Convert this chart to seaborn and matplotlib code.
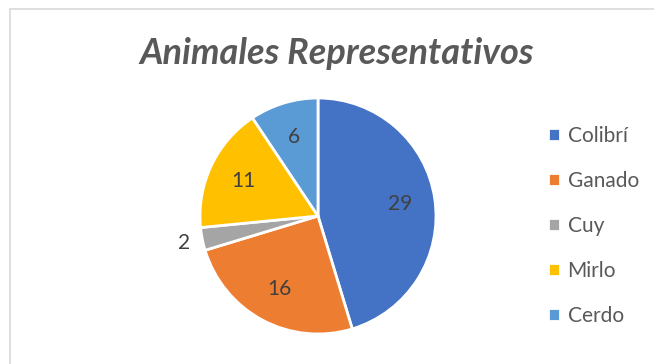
import matplotlib
matplotlib.use("Agg")
import matplotlib.pyplot as plt
import seaborn as sns
from matplotlib.patches import Rectangle

animales = ['Colibrí', 'Ganado', 'Cuy', 'Mirlo', 'Cerdo']
cantidad = [29, 16, 2, 11, 6]
colores = ['#4472C4', '#ED7D31', '#A5A5A5', '#FFC000', '#5B9BD5']
titulo = 'Animales Representativos'

sns.set_theme(style="white")
plt.rcParams['font.family'] = ['Lato', 'DejaVu Sans']

fig = plt.figure(figsize=(6.54, 3.64), dpi=100)
fig.patch.set_facecolor('white')

# chart area border (only left/top visible in the reference)
fig.patches.append(Rectangle((10 / 654, -0.1), 1.2, 1.1 - 9 / 364,
                             transform=fig.transFigure, fill=False,
                             edgecolor='#d9d9d9', linewidth=1.2))

ax = fig.add_axes([(318 - 118) / 654, (364 - 216 - 118) / 364, 236 / 654, 236 / 364])
total = sum(cantidad)

def etiqueta(pct):
    v = int(round(pct * total / 100))
    return '' if v < 5 else str(v)

etiquetas = [str(v) if v < 5 else '' for v in cantidad]
wedges, texts, autotexts = ax.pie(cantidad, colors=colores, startangle=90, counterclock=False,
                                  labels=etiquetas, labeldistance=1.16,
                                  autopct=etiqueta, pctdistance=0.7,
                                  wedgeprops=dict(edgecolor='white', linewidth=2))
for t in texts + autotexts:
    t.set_fontsize(15)
    t.set_color('#404040')
    t.set_ha('center')
    t.set_va('center')
ax.set_xlim(-1, 1)
ax.set_ylim(-1, 1)

fig.text(337 / 654, 1 - 53 / 364, titulo, ha='center', va='center', fontsize=26,
         fontweight='bold', fontstyle='italic', color='#595959')

fig.legend(wedges, animales, loc='upper left', bbox_to_anchor=(529 / 654, 1 - 107 / 364),
           frameon=False, fontsize=15, handlelength=0.6, handleheight=0.6,
           handletextpad=0.35, labelspacing=1.2, labelcolor='#595959')

fig.savefig('out.png', dpi=100)
